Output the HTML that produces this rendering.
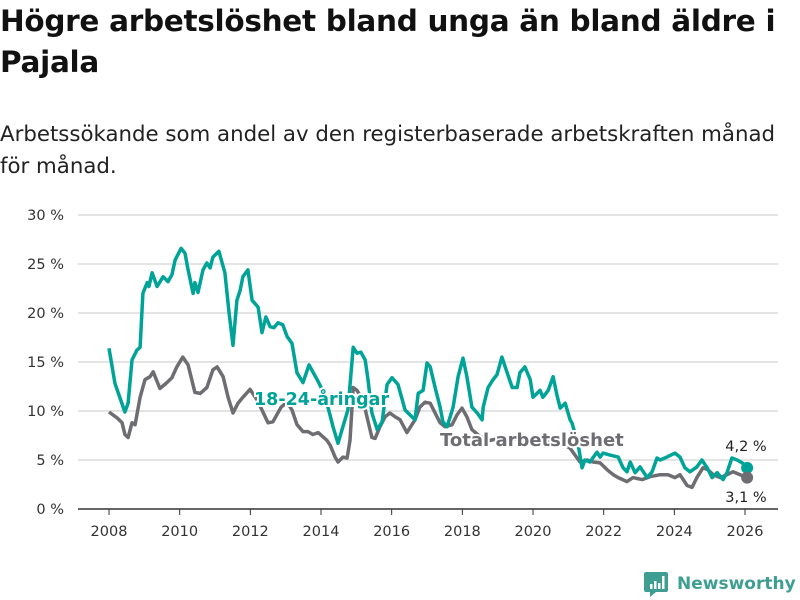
<!DOCTYPE html>
<html><head><meta charset="utf-8">
<style>
body{margin:0;background:#fff;font-family:"DejaVu Sans","Liberation Sans",sans-serif;}
#wrap{position:relative;width:800px;height:600px;overflow:hidden;}
h1{position:absolute;left:0;top:1px;margin:0;font-size:29.5px;line-height:41px;font-weight:bold;color:#111;white-space:nowrap;letter-spacing:-0.3px}
.sub{position:absolute;left:0;top:119px;font-size:21.3px;line-height:32px;color:#222;white-space:nowrap}
svg{position:absolute;left:0;top:0;font-family:"DejaVu Sans","Liberation Sans",sans-serif}
</style></head><body>
<div id="wrap">
<h1>Högre arbetslöshet bland unga än bland äldre i<br>Pajala</h1>
<div class="sub">Arbetssökande som andel av den registerbaserade arbetskraften månad<br>för månad.</div>
<svg id="chart" width="800" height="600"></svg>
</div>
<script>
const youthYears=[2008.00,2008.17,2008.45,2008.54,2008.65,2008.79,2008.88,2008.96,2009.08,2009.13,2009.22,2009.36,2009.53,2009.67,2009.78,2009.87,2010.04,2010.15,2010.24,2010.38,2010.43,2010.52,2010.66,2010.77,2010.86,2010.94,2011.11,2011.28,2011.40,2011.51,2011.62,2011.71,2011.79,2011.93,2012.05,2012.22,2012.33,2012.44,2012.56,2012.67,2012.78,2012.92,2013.04,2013.18,2013.32,2013.49,2013.66,2013.92,2014.11,2014.34,2014.48,2014.62,2014.76,2014.91,2015.02,2015.13,2015.25,2015.33,2015.44,2015.59,2015.73,2015.87,2016.01,2016.18,2016.38,2016.52,2016.66,2016.75,2016.89,2017.00,2017.09,2017.23,2017.37,2017.45,2017.57,2017.74,2017.88,2018.02,2018.13,2018.27,2018.42,2018.56,2018.59,2018.73,2018.87,2018.98,2019.12,2019.27,2019.41,2019.55,2019.63,2019.77,2019.92,2020.00,2020.20,2020.28,2020.43,2020.57,2020.68,2020.77,2020.91,2021.05,2021.10,2021.27,2021.39,2021.47,2021.61,2021.81,2021.90,2021.98,2022.18,2022.41,2022.55,2022.66,2022.75,2022.89,2023.03,2023.23,2023.37,2023.51,2023.60,2023.79,2024.02,2024.16,2024.30,2024.44,2024.64,2024.78,2024.93,2025.07,2025.21,2025.38,2025.49,2025.63,2025.78,2025.92,2026.06];
const youthValues=[16.4,12.8,9.9,10.8,15.2,16.2,16.5,22.0,23.1,22.7,24.1,22.7,23.7,23.2,23.9,25.4,26.6,26.1,24.4,22.0,23.1,22.1,24.4,25.1,24.6,25.7,26.3,24.1,20.0,16.7,21.3,22.3,23.7,24.4,21.3,20.6,18.0,19.6,18.6,18.5,19.0,18.8,17.6,16.9,13.9,12.9,14.7,13.0,11.6,8.4,6.7,8.4,10.1,16.5,15.9,16.0,15.2,13.2,9.8,8.1,8.9,12.7,13.4,12.7,10.1,9.6,9.1,11.8,12.1,14.9,14.5,12.4,10.4,8.9,8.4,10.4,13.5,15.4,13.5,10.4,9.8,9.1,10.4,12.4,13.2,13.7,15.5,13.9,12.4,12.4,13.9,14.5,13.2,11.4,12.1,11.4,12.1,13.5,11.6,10.3,10.8,9.1,8.8,6.7,4.2,5.0,4.8,5.8,5.3,5.7,5.5,5.3,4.2,3.8,4.8,3.7,4.3,3.2,3.8,5.2,5.0,5.3,5.7,5.3,4.2,3.8,4.3,5.0,4.2,3.2,3.7,3.0,3.7,5.2,5.0,4.7,4.2];
const totalYears=[2008.00,2008.23,2008.37,2008.45,2008.54,2008.65,2008.74,2008.88,2009.02,2009.16,2009.25,2009.44,2009.64,2009.78,2009.92,2010.09,2010.24,2010.43,2010.58,2010.77,2010.94,2011.06,2011.23,2011.37,2011.51,2011.65,2011.79,2011.99,2012.16,2012.33,2012.50,2012.64,2012.87,2013.04,2013.18,2013.32,2013.49,2013.63,2013.77,2013.92,2014.17,2014.26,2014.40,2014.48,2014.62,2014.74,2014.82,2014.91,2015.02,2015.19,2015.44,2015.53,2015.67,2015.81,2015.95,2016.10,2016.24,2016.43,2016.52,2016.66,2016.80,2016.94,2017.09,2017.23,2017.37,2017.51,2017.71,2017.85,2017.99,2018.13,2018.27,2018.50,2018.78,2019.07,2019.35,2019.63,2019.92,2020.20,2020.48,2020.77,2021.05,2021.33,2021.53,2021.70,2021.90,2022.10,2022.27,2022.41,2022.66,2022.83,2023.09,2023.31,2023.60,2023.82,2024.02,2024.16,2024.36,2024.50,2024.64,2024.81,2024.95,2025.10,2025.30,2025.49,2025.66,2025.86,2026.06];
const totalValues=[9.9,9.3,8.8,7.6,7.3,8.8,8.6,11.4,13.2,13.5,14.0,12.3,12.9,13.4,14.5,15.5,14.7,11.9,11.8,12.4,14.2,14.5,13.5,11.4,9.8,10.8,11.4,12.2,11.3,10.1,8.8,8.9,10.4,10.9,10.1,8.6,7.9,7.9,7.6,7.8,7.0,6.5,5.3,4.8,5.3,5.2,7.0,12.4,12.1,11.1,7.3,7.2,8.4,9.4,9.8,9.4,9.1,7.8,8.3,9.1,10.4,10.9,10.8,9.8,8.8,8.4,8.6,9.6,10.3,9.4,8.1,7.4,7.0,7.2,7.3,7.0,6.8,7.0,6.8,6.8,6.2,4.8,5.0,4.8,4.7,4.0,3.5,3.2,2.8,3.2,3.0,3.3,3.5,3.5,3.2,3.5,2.4,2.2,3.2,4.2,4.0,3.5,3.2,3.5,3.8,3.5,3.2];
const yTicks=[0,5,10,15,20,25,30];
const yTickLabels=["0 %","5 %","10 %","15 %","20 %","25 %","30 %"];
const xTicks=[2008,2010,2012,2014,2016,2018,2020,2022,2024,2026];
const endLabels=["4,2 %","3,1 %"];

const NS="http://www.w3.org/2000/svg";
const svg=document.getElementById('chart');
const X=yr=>109+(yr-2008)*(745-109)/18;
const Y=v=>509-v*(509-215)/30;
function mk(tag,attrs,parent){const e=document.createElementNS(NS,tag);for(const k in attrs)e.setAttribute(k,attrs[k]);(parent||svg).appendChild(e);return e;}
yTicks.forEach((t,i)=>{
  if(t>0){const g=mk('line',{x1:78,x2:778,y1:Y(t),y2:Y(t),stroke:'#dcdcdc','stroke-width':1.5});
  
  }
  const l=mk('text',{x:64,y:Y(t)+5,'text-anchor':'end','font-size':14.5,fill:'#333'});
  l.textContent=yTickLabels[i];
  
  
});
const ax=mk('line',{x1:78,x2:778,y1:509,y2:509,stroke:'#333','stroke-width':1.5});


xTicks.forEach(t=>{
  const tk=mk('line',{x1:X(t),x2:X(t),y1:509,y2:515,stroke:'#333','stroke-width':1});
  
  
  const l=mk('text',{x:X(t),y:536,'text-anchor':'middle','font-size':14.5,fill:'#333'});
  l.textContent=t;
  
  
});
function path(xs,vs){return xs.map((x,i)=>(i?'L':'M')+X(x).toFixed(1)+','+Y(vs[i]).toFixed(1)).join('');}
const gl=mk('path',{d:path(totalYears,totalValues),fill:'none',stroke:'#6d6d72','stroke-width':3.5,'stroke-linejoin':'round'});


const tl=mk('path',{d:path(youthYears,youthValues),fill:'none',stroke:'#00a397','stroke-width':3.5,'stroke-linejoin':'round'});


const d1=mk('circle',{cx:X(youthYears[youthYears.length-1]),cy:Y(youthValues[youthValues.length-1]),r:6,fill:'#00a397'});


const d2=mk('circle',{cx:X(totalYears[totalYears.length-1]),cy:Y(totalValues[totalValues.length-1]),r:6,fill:'#6d6d72'});


const e1=mk('text',{x:746,y:451,'text-anchor':'middle','font-size':14.5,fill:'#222'});
e1.textContent=endLabels[0];


const e2=mk('text',{x:746,y:502,'text-anchor':'middle','font-size':14.5,fill:'#222'});
e2.textContent=endLabels[1];


const s1=mk('text',{x:254,y:405,'font-size':17.5,'font-weight':'bold',fill:'#00a397',stroke:'#fff','stroke-width':4,'paint-order':'stroke'});
s1.textContent='18-24-åringar';


const s2=mk('text',{x:440,y:446,'font-size':18,'font-weight':'bold',fill:'#6d6d72',stroke:'#fff','stroke-width':4,'paint-order':'stroke'});
s2.textContent='Total arbetslöshet';


const lg=mk('g',{});


mk('path',{d:'M646,572 h20 a2,2 0 0 1 2,2 v16 a2,2 0 0 1 -2,2 h-10 l-6,5 v-5 h-4 a2,2 0 0 1 -2,-2 v-16 a2,2 0 0 1 2,-2z',fill:'#3e9e92'},lg);
mk('rect',{x:650,y:584,width:2.5,height:5,fill:'#fff'},lg);
mk('rect',{x:654,y:581,width:2.5,height:8,fill:'#fff'},lg);
mk('rect',{x:658,y:583,width:2.5,height:6,fill:'#fff'},lg);
mk('rect',{x:662,y:576,width:2.5,height:13,fill:'#fff'},lg);
const lt=mk('text',{x:677,y:589,'font-size':17,'font-weight':'bold',fill:'#3e9e92'},lg);
lt.textContent='Newsworthy';
</script>
</body></html>
